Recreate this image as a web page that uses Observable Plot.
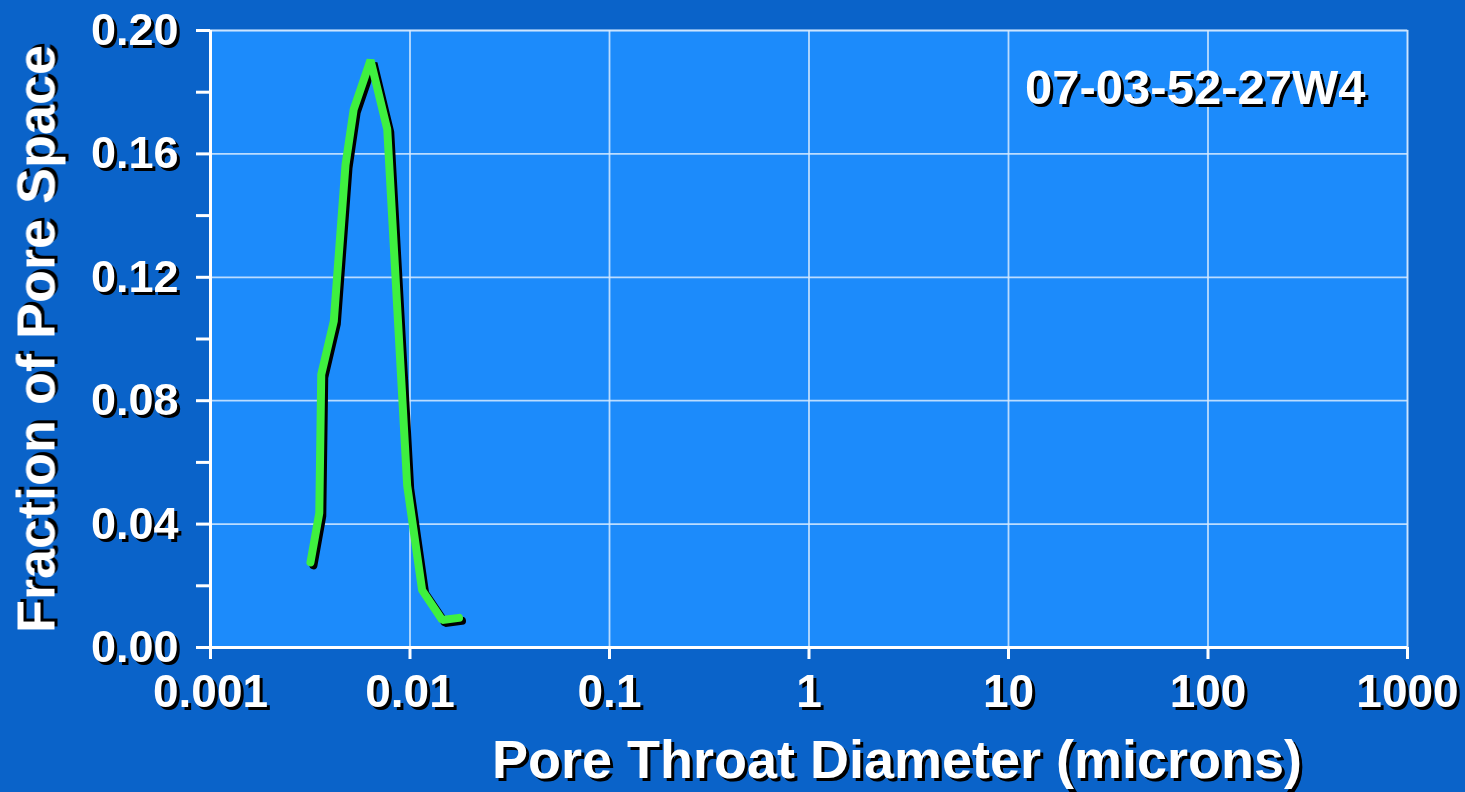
<!DOCTYPE html>
<html>
<head>
<meta charset="utf-8">
<script src="https://cdn.jsdelivr.net/npm/d3@7"></script>
<script src="https://cdn.jsdelivr.net/npm/@observablehq/plot@0.6"></script>
<style>
  html, body { margin: 0; padding: 0; background: #0a63c9; }
  #chart svg { display: block; }
  #chart svg text { filter: drop-shadow(3px 3px 0 #000); }
</style>
</head>
<body>
<div id="chart"></div>
<script>
// Data
const diameter = [0.00317, 0.00351, 0.00359, 0.00415, 0.00475, 0.00522, 0.00634, 0.00769, 0.00968, 0.0115, 0.0145, 0.0176];
const fraction = [0.0276, 0.0436, 0.0885, 0.1058, 0.1564, 0.1744, 0.1904, 0.168, 0.0525, 0.0186, 0.0089, 0.0096];
const xTicks = [0.001, 0.01, 0.1, 1, 10, 100, 1000];
const xTickLabels = ["0.001", "0.01", "0.1", "1", "10", "100", "1000"];
const yTicks = [0, 0.04, 0.08, 0.12, 0.16, 0.20];
const yTickLabels = ["0.00", "0.04", "0.08", "0.12", "0.16", "0.20"];
const yMinorTicks = [0.02, 0.06, 0.10, 0.14, 0.18];
const sampleLabel = "07-03-52-27W4";
const xTitle = "Pore Throat Diameter (microns)";
const yTitle = "Fraction of Pore Space";

const data = diameter.map((d, i) => ({d, f: fraction[i]}));
const xLabelData = xTicks.map((v, i) => ({v, label: xTickLabels[i]}));

const chart = Plot.plot({
  width: 1465,
  height: 792,
  marginLeft: 210,
  marginRight: 58,
  marginTop: 30,
  marginBottom: 145,
  style: {background: "#0a63c9", color: "#fff", fontFamily: "'Liberation Sans', Arial, sans-serif", fontWeight: "bold", overflow: "visible"},
  x: {type: "log", domain: [0.001, 1000]},
  y: {domain: [0, 0.2]},
  marks: [
    Plot.frame({fill: "#1c8bfb", stroke: "#8cc4ff", strokeWidth: 1.5}),
    Plot.gridX(xTicks, {stroke: "#d6eaff", strokeOpacity: 0.85, strokeWidth: 1.8}),
    Plot.gridY(yTicks, {stroke: "#d6eaff", strokeOpacity: 0.85, strokeWidth: 1.8}),
    Plot.axisY(yMinorTicks, {tickSize: 14, tickFormat: () => "", stroke: "#fff", strokeWidth: 3, label: null}),
    Plot.axisY(yTicks, {tickSize: 14, tickPadding: 18, tickFormat: (d, i) => yTickLabels[i], fontSize: 45, stroke: "#fff", strokeWidth: 3, label: null}),
    Plot.axisX(xTicks, {tickSize: 12, tickFormat: () => "", stroke: "#fff", strokeWidth: 3, label: null}),
    Plot.text(xLabelData, {x: "v", text: "label", frameAnchor: "bottom", dy: 45, fontSize: 46, fill: "#fff", lineAnchor: "middle", textAnchor: "middle"}),
    Plot.ruleX([0.001], {stroke: "#fff", strokeWidth: 3}),
    Plot.ruleY([0], {stroke: "#fff", strokeWidth: 3}),
    Plot.line(data, {x: "d", y: "f", stroke: "#000", strokeWidth: 8, dx: 3, dy: 3, strokeLinejoin: "miter"}),
    Plot.line(data, {x: "d", y: "f", stroke: "#3ff03f", strokeWidth: 8, strokeLinejoin: "miter"}),
    Plot.text([sampleLabel], {frameAnchor: "top-right", dx: -42, dy: 58, text: d => d, fontSize: 49, fill: "#fff", textAnchor: "end", lineAnchor: "middle"}),
    Plot.text([xTitle], {frameAnchor: "bottom", dy: 113, dx: 88, text: d => d, fontSize: 54, fill: "#fff", lineAnchor: "middle", textAnchor: "middle"}),
    Plot.text([yTitle], {frameAnchor: "left", dx: -173, text: d => d, fontSize: 54, fill: "#fff", rotate: -90, lineAnchor: "middle", textAnchor: "middle"})
  ]
});
document.getElementById("chart").appendChild(chart);
</script>
</body>
</html>
